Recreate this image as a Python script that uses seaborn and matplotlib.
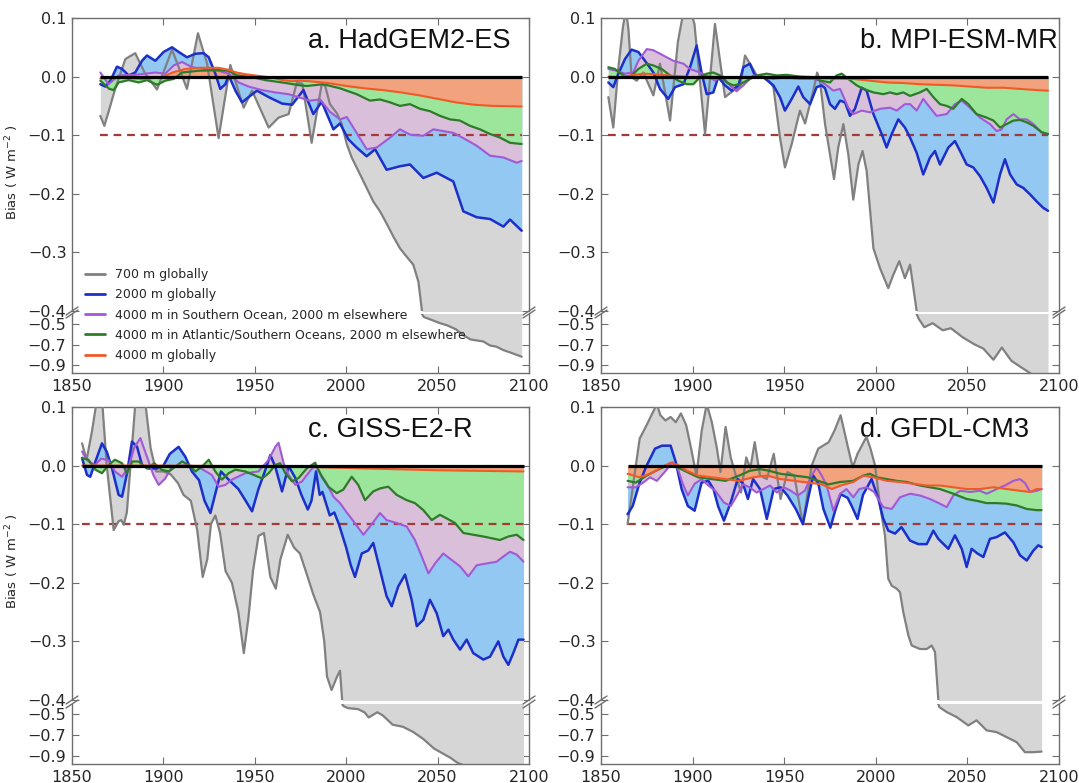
import matplotlib
matplotlib.use("Agg")
import matplotlib.pyplot as plt
import seaborn as sns
from matplotlib.lines import Line2D

# ---------------- data ----------------
LABELS = ["700 m globally", "2000 m globally",
          "4000 m in Southern Ocean, 2000 m elsewhere",
          "4000 m in Atlantic/Southern Oceans, 2000 m elsewhere",
          "4000 m globally"]
TITLES = ["a. HadGEM2-ES", "b. MPI-ESM-MR", "c. GISS-E2-R", "d. GFDL-CM3"]
SPANS = [(1865.5, 2096), (1854, 2094), (1855.5, 2097), (1864.5, 2090.5)]
THRESHOLD = -0.1

# panel a
A_GRAY_YR = [1865.5, 1867.7, 1870, 1873.7, 1879.2, 1884.6, 1890, 1896.5, 1904.7, 1912.9, 1918.9, 1923.9,
             1930.2, 1936.6, 1943.9, 1948.5, 1957.6, 1963, 1968.5, 1973, 1976, 1981.1, 1986.6, 1988.5,
             1991.1, 1995, 1997.5, 2000.3, 2003, 2007.6, 2011.2, 2014.8, 2018.5, 2022, 2025.8, 2029.4,
             2033, 2036.7, 2039.5, 2041.3, 2042.5, 2047, 2051.3, 2055, 2060, 2064.1, 2068, 2071.4, 2075,
             2078.7, 2082, 2086, 2090, 2096]
A_GRAY = [-0.067, -0.084, -0.06, -0.02, 0.030, 0.040, 0.005, -0.022, 0.046, -0.021, 0.074, 0.022,
          -0.105, 0.020, -0.053, -0.024, -0.087, -0.070, -0.064, -0.010, -0.012, -0.113, -0.013, -0.016,
          -0.047, -0.063, -0.080, -0.115, -0.138, -0.167, -0.190, -0.213, -0.230, -0.250, -0.273, -0.293,
          -0.307, -0.321, -0.350, -0.396, -0.430, -0.460, -0.490, -0.510, -0.550, -0.610, -0.650, -0.660,
          -0.670, -0.710, -0.720, -0.755, -0.780, -0.820]
A_BLUE_YR = [1865.5, 1868.2, 1871, 1874.6, 1877.4, 1881, 1884.6, 1888.3, 1891, 1895.6, 1900.1, 1904.7,
             1908.4, 1912.9, 1917.5, 1922, 1924.8, 1928.4, 1931.1, 1933.9, 1935.7, 1939.4, 1943, 1946.6,
             1951.2, 1957.6, 1964.9, 1970.4, 1976.6, 1982, 1986.6, 1993, 1996.6, 2001.2, 2005.7, 2011.2,
             2015.8, 2022.1, 2029.4, 2034.9, 2042.2, 2049.5, 2058.6, 2064.1, 2071.4, 2078.7, 2086, 2089.6, 2096]
A_BLUE = [-0.013, -0.017, -0.007, 0.017, 0.013, 0.002, 0.007, 0.027, 0.036, 0.027, 0.042, 0.050,
          0.042, 0.033, 0.039, 0.040, 0.033, 0.005, -0.021, -0.013, 0.002, -0.024, -0.044, -0.035,
          -0.024, -0.035, -0.046, -0.048, -0.023, -0.064, -0.043, -0.090, -0.080, -0.107, -0.121, -0.136,
          -0.124, -0.159, -0.153, -0.150, -0.173, -0.164, -0.179, -0.230, -0.240, -0.243, -0.256, -0.244, -0.263]
A_PURP_YR = [1865.5, 1870, 1875.5, 1884.6, 1895.6, 1901, 1905.6, 1910.2, 1915.6, 1922.9, 1930.2, 1935.7,
             1941.2, 1946.6, 1953.9, 1961.2, 1968.5, 1974.7, 1980.2, 1985.7, 1991.1, 1996.6, 2000.3, 2005.7,
             2011.2, 2016.7, 2024, 2029.4, 2034.9, 2042.2, 2047.7, 2053.1, 2058.6, 2064.1, 2071.4, 2078.7,
             2086, 2093.3, 2096]
A_PURP = [0.007, -0.013, 0.002, 0.003, 0.007, 0.005, 0.019, 0.025, 0.016, 0.013, 0.010, 0.005,
          -0.010, -0.017, -0.023, -0.027, -0.030, -0.036, -0.041, -0.039, -0.060, -0.073, -0.069, -0.096,
          -0.124, -0.121, -0.104, -0.090, -0.099, -0.101, -0.090, -0.093, -0.096, -0.105, -0.118, -0.135,
          -0.138, -0.147, -0.144]
A_GREEN_YR = [1865.5, 1870.4, 1872.8, 1875.5, 1881, 1886.5, 1891, 1896.5, 1901, 1905.6, 1910.2, 1919.3,
              1930.2, 1935.7, 1940.3, 1948.5, 1955.8, 1964.9, 1974.9, 1978.4, 1987.5, 1996.6, 2005.7, 2013,
              2018.5, 2024, 2029.4, 2034.9, 2040.4, 2045.8, 2051.3, 2056.8, 2062.2, 2067.7, 2073.2, 2078.7,
              2084.1, 2089.6, 2096]
A_GREEN = [-0.007, -0.021, -0.023, -0.010, -0.006, -0.010, -0.006, -0.014, -0.007, -0.004, 0.007, 0.010,
           0.011, 0.010, 0.002, -0.001, -0.006, -0.010, -0.015, -0.016, -0.013, -0.020, -0.030, -0.041,
           -0.039, -0.044, -0.050, -0.047, -0.055, -0.059, -0.067, -0.073, -0.075, -0.084, -0.090, -0.098,
           -0.104, -0.113, -0.115]
A_ORANGE_YR = [1865.5, 1875, 1890, 1900, 1905, 1912, 1920, 1930, 1935, 1940, 1945, 1950, 1955, 1960, 1965,
               1970, 1975, 1980, 1990, 2000, 2010, 2020, 2030, 2040, 2050, 2060, 2070, 2080, 2096]
A_ORANGE = [-0.003, -0.002, -0.004, 0.000, 0.007, 0.013, 0.015, 0.015, 0.012, 0.007, 0.004, 0.002, 0.000,
            -0.002, -0.006, -0.008, -0.007, -0.008, -0.011, -0.016, -0.020, -0.023, -0.027, -0.032, -0.038,
            -0.044, -0.048, -0.050, -0.051]

# panel b
B_GRAY_YR = [1854, 1856.7, 1859.5, 1862, 1863.6, 1865, 1866.7, 1869.5, 1873.1, 1878.6, 1882.2, 1887.7,
             1892, 1895, 1898, 1901, 1906.8, 1912.2, 1917.7, 1922.2, 1925.9, 1928.6, 1931.3, 1935, 1940.4,
             1944.1, 1947.7, 1950.4, 1954.1, 1958.6, 1961.4, 1965.9, 1968, 1969.5, 1972.3, 1977.2, 1979.5,
             1982.3, 1985, 1987.7, 1990.5, 1992.8, 1995, 1998.7, 2002.3, 2006.8, 2009.6, 2012.8, 2015.9,
             2018.7, 2021.4, 2022.3, 2023.5, 2026.5, 2031, 2036.5, 2041, 2047.5, 2054, 2058.7, 2064.2,
             2068.8, 2074, 2079, 2085, 2094]
B_GRAY = [-0.035, -0.087, 0.016, 0.085, 0.115, 0.080, -0.001, -0.007, 0.007, -0.032, 0.022, -0.075,
          0.060, 0.110, 0.120, 0.090, -0.098, 0.090, -0.035, -0.024, -0.018, 0.036, 0.022, 0.002, -0.001,
          -0.018, -0.104, -0.155, -0.115, -0.058, -0.080, -0.024, 0.007, -0.007, -0.081, -0.175, -0.121,
          -0.081, -0.133, -0.210, -0.150, -0.127, -0.161, -0.293, -0.327, -0.361, -0.338, -0.315, -0.344,
          -0.321, -0.380, -0.400, -0.450, -0.530, -0.490, -0.560, -0.540, -0.630, -0.700, -0.740, -0.850,
          -0.730, -0.860, -0.920, -0.990, -1.050]
B_BLUE_YR = [1854, 1856.7, 1859.5, 1863.1, 1866.7, 1870.4, 1874, 1878.6, 1882.2, 1886.7, 1890.4, 1895,
             1898.6, 1902.2, 1905, 1907.7, 1911.3, 1914, 1917.7, 1921.3, 1925, 1927.7, 1931.3, 1934, 1938.6,
             1944.1, 1947.7, 1950.4, 1954.1, 1957.7, 1960.4, 1964.1, 1967.7, 1970.4, 1972.3, 1975, 1977.7,
             1980.5, 1983.2, 1985.9, 1988.6, 1992.3, 1995, 1998.7, 2003.2, 2005.9, 2008.7, 2012.3, 2015.9,
             2018.7, 2022.3, 2025.9, 2029.6, 2032.3, 2035, 2039.6, 2043.2, 2046, 2049.6, 2053.2, 2056.9,
             2060.5, 2064.2, 2067.8, 2070.5, 2073.3, 2076.9, 2080.5, 2084.2, 2087.8, 2091.4, 2094]
B_BLUE = [-0.010, -0.018, 0.005, 0.030, 0.046, 0.042, 0.027, 0.007, -0.021, -0.038, -0.018, -0.013,
          0.016, 0.053, 0.005, -0.030, -0.027, -0.001, -0.015, -0.024, -0.015, 0.016, 0.022, 0.002, -0.001,
          -0.015, -0.035, -0.058, -0.038, -0.017, -0.035, -0.047, -0.018, -0.015, -0.020, -0.047, -0.055,
          -0.041, -0.044, -0.067, -0.055, -0.019, -0.024, -0.064, -0.098, -0.121, -0.098, -0.073, -0.087,
          -0.104, -0.130, -0.167, -0.138, -0.127, -0.150, -0.121, -0.110, -0.127, -0.150, -0.155, -0.170,
          -0.190, -0.215, -0.167, -0.141, -0.167, -0.184, -0.190, -0.201, -0.213, -0.224, -0.229]
B_PURP_YR = [1854, 1858.5, 1863, 1867.6, 1870.4, 1875, 1878.6, 1884, 1889.5, 1895, 1898.6, 1904, 1907.7,
             1912.2, 1915.9, 1920.4, 1924, 1927.7, 1933.1, 1938.6, 1944.1, 1951.3, 1958.6, 1965.9, 1969.5,
             1973.2, 1976.8, 1980.5, 1985, 1987.7, 1992.3, 1996.8, 2002.3, 2007.7, 2011.4, 2015.9, 2018.7,
             2022.3, 2025.9, 2029.6, 2033.2, 2038.7, 2043.2, 2046.9, 2051.4, 2056.9, 2062.3, 2066, 2068.7,
             2071.4, 2075.1, 2078.7, 2082.4, 2086, 2090.5, 2094]
B_PURP = [0.013, 0.010, 0.005, 0.007, 0.027, 0.047, 0.045, 0.036, 0.027, 0.022, 0.013, 0.007, 0.002,
          -0.007, 0.002, -0.015, -0.025, -0.015, 0.002, -0.001, -0.004, -0.001, -0.004, -0.004, -0.007,
          -0.015, -0.024, -0.021, -0.053, -0.064, -0.058, -0.061, -0.055, -0.053, -0.058, -0.047, -0.047,
          -0.058, -0.038, -0.053, -0.067, -0.064, -0.047, -0.041, -0.053, -0.070, -0.081, -0.093, -0.090,
          -0.073, -0.064, -0.073, -0.073, -0.081, -0.095, -0.098]
B_GREEN_YR = [1854, 1857.6, 1862.2, 1865.8, 1870.4, 1875, 1878.6, 1883.1, 1887.7, 1892.2, 1896.8, 1900.4,
              1904, 1907.7, 1911.3, 1915, 1918.6, 1922.2, 1925.9, 1929.5, 1935, 1940.4, 1945.9, 1951.3,
              1958.6, 1965.9, 1970, 1975, 1978.6, 1981.4, 1985, 1989.6, 1993.2, 1998.7, 2004.1, 2007.7,
              2011.4, 2015, 2018.7, 2024.1, 2027.8, 2031.4, 2035, 2038.7, 2042.3, 2046.9, 2050.5, 2055,
              2060.5, 2064.2, 2067.8, 2071.4, 2075.1, 2078.7, 2082.4, 2086, 2090.5, 2094]
B_GREEN = [0.016, 0.013, 0.002, -0.001, 0.013, 0.022, 0.019, 0.013, 0.002, -0.007, -0.013, -0.013,
           -0.001, 0.005, 0.007, 0.002, -0.010, -0.015, -0.013, -0.007, 0.002, 0.005, 0.002, 0.003,
           0.000, -0.001, -0.007, -0.010, 0.002, 0.005, -0.004, -0.015, -0.021, -0.027, -0.030, -0.027,
           -0.030, -0.027, -0.033, -0.027, -0.021, -0.035, -0.047, -0.050, -0.055, -0.038, -0.047, -0.064,
           -0.070, -0.075, -0.087, -0.081, -0.075, -0.074, -0.078, -0.084, -0.095, -0.098]
B_ORANGE_YR = [1854, 1860, 1866, 1873, 1880, 1890, 1900, 1920, 1940, 1960, 1970, 1987.7, 1996.8, 2005.9,
               2015, 2024.1, 2033.2, 2042.3, 2051.4, 2060.5, 2069.6, 2078.7, 2087.8, 2094]
B_ORANGE = [0.000, -0.001, 0.002, 0.005, 0.004, 0.001, -0.001, -0.002, -0.002, -0.003, -0.003, -0.004,
            -0.007, -0.010, -0.011, -0.013, -0.014, -0.015, -0.017, -0.019, -0.019, -0.021, -0.023, -0.024]

# panel c
C_GRAY_YR = [1855.5, 1858, 1861, 1863.5, 1866.5, 1869, 1872.8, 1875.5, 1877, 1878.3, 1880, 1882, 1884.5,
             1886, 1890, 1893, 1896, 1900, 1904, 1908, 1911, 1915, 1918.5, 1921.5, 1924, 1926, 1928.4, 1931,
             1934, 1937.5, 1941, 1944, 1946.5, 1949, 1952, 1955, 1958.5, 1961.5, 1964, 1968, 1971.5, 1974.7,
             1978.4, 1982, 1985.7, 1988, 1989.5, 1992, 1995, 1996.6, 1997.8, 1998.5, 2001, 2006.5, 2010,
             2012.3, 2017, 2020, 2025.4, 2031, 2036.6, 2042.3, 2048, 2053.5, 2057, 2061, 2070, 2097]
C_GRAY = [0.038, 0.010, 0.060, 0.110, 0.110, 0.000, -0.110, -0.095, -0.093, -0.101, -0.080, 0.000, 0.100,
          0.120, 0.110, 0.030, -0.010, -0.010, -0.015, -0.030, -0.050, -0.060, -0.110, -0.190, -0.160,
          -0.100, -0.085, -0.115, -0.180, -0.200, -0.250, -0.320, -0.260, -0.180, -0.120, -0.115, -0.190,
          -0.210, -0.160, -0.118, -0.140, -0.150, -0.185, -0.220, -0.250, -0.300, -0.360, -0.383, -0.360,
          -0.350, -0.400, -0.420, -0.440, -0.450, -0.480, -0.530, -0.480, -0.510, -0.600, -0.620, -0.670,
          -0.740, -0.830, -0.885, -0.920, -0.970, -1.030, -1.150]
C_BLUE_YR = [1855.5, 1858.2, 1860, 1862.8, 1866.4, 1869, 1871.9, 1875.5, 1877.4, 1880.1, 1882.8, 1885.6,
             1888.3, 1892, 1896.5, 1900, 1903.5, 1908.3, 1912, 1915.6, 1919.5, 1922.5, 1925.7, 1928.4,
             1931.5, 1936, 1941, 1945, 1948.5, 1952, 1955.5, 1958.5, 1961.2, 1964.9, 1968.5, 1972, 1975.5,
             1979, 1981, 1983.5, 1985.5, 1987, 1989, 1991, 1993.5, 1996, 2000, 2002.5, 2004.8, 2008.5, 2012,
             2014.8, 2018.5, 2022.1, 2024.9, 2028.5, 2032.2, 2035.8, 2038.6, 2042.2, 2045.8, 2049.5, 2053.1,
             2055.9, 2058.6, 2062.3, 2065.9, 2069.5, 2075, 2078.7, 2083.2, 2086, 2088.7, 2091.4, 2094.2, 2097]
C_BLUE = [0.013, -0.016, -0.019, 0.007, 0.038, 0.024, -0.005, -0.050, -0.053, -0.013, 0.041, 0.032,
          0.001, -0.005, -0.005, 0.000, 0.020, 0.032, 0.015, -0.010, -0.025, -0.060, -0.081, -0.048,
          -0.010, -0.025, -0.040, -0.060, -0.078, -0.040, -0.010, 0.018, -0.002, -0.044, -0.001, -0.020,
          -0.050, -0.075, -0.060, -0.010, -0.050, -0.045, -0.065, -0.085, -0.080, -0.100, -0.140, -0.170,
          -0.190, -0.150, -0.145, -0.132, -0.178, -0.223, -0.240, -0.206, -0.186, -0.229, -0.274, -0.263,
          -0.229, -0.252, -0.291, -0.280, -0.297, -0.314, -0.297, -0.320, -0.331, -0.326, -0.300, -0.326,
          -0.340, -0.320, -0.297, -0.297]
C_PURP_YR = [1855.5, 1859, 1862.5, 1866, 1870, 1873.5, 1877.4, 1881, 1884, 1887.4, 1891, 1894.5, 1897.4,
             1901, 1904.7, 1912, 1919, 1926.5, 1930.2, 1933.9, 1937.5, 1944.8, 1952, 1957.6, 1961.2, 1963,
             1965.8, 1968.5, 1972.2, 1975.8, 1979.5, 1983, 1985.7, 1989.3, 1993, 1996.6, 2000.3, 2004,
             2009.4, 2013, 2018.5, 2022.1, 2027.6, 2033.1, 2037.6, 2041.3, 2045, 2048.6, 2053.1, 2057.7,
             2062.3, 2066.8, 2071.4, 2076.8, 2082.3, 2086, 2089.6, 2093.3, 2097]
C_PURP = [0.024, 0.007, 0.001, 0.012, 0.009, -0.010, -0.019, -0.002, 0.030, 0.047, 0.015, -0.016, -0.033,
          -0.022, -0.002, 0.001, -0.002, -0.016, -0.036, -0.033, -0.024, -0.013, -0.010, 0.010, 0.032, 0.039,
          0.004, -0.016, -0.033, -0.027, -0.012, 0.001, -0.013, -0.030, -0.053, -0.064, -0.080, -0.095,
          -0.118, -0.104, -0.081, -0.093, -0.098, -0.104, -0.127, -0.155, -0.184, -0.167, -0.150, -0.161,
          -0.172, -0.189, -0.170, -0.167, -0.164, -0.155, -0.147, -0.152, -0.164]
C_GREEN_YR = [1855.5, 1859, 1862.8, 1866.4, 1870, 1873.5, 1877.4, 1880, 1883, 1886.5, 1891, 1895, 1899,
              1902.9, 1906.5, 1910.2, 1913.8, 1917.5, 1921, 1924.8, 1928.4, 1932, 1935.7, 1939.4, 1944.8,
              1949.5, 1954, 1957.6, 1961.2, 1963.9, 1966.7, 1970.4, 1974, 1978.4, 1983, 1986.6, 1990.2,
              1994.8, 1998.4, 2003, 2006.6, 2010.3, 2014.8, 2018.5, 2023, 2027.6, 2033.1, 2037.6, 2042.2,
              2046.8, 2051.3, 2054.9, 2059.5, 2064.1, 2069.5, 2075, 2079.6, 2084.1, 2088.7, 2093.3, 2097]
C_GREEN = [0.013, 0.010, -0.007, -0.013, 0.001, 0.010, 0.004, -0.013, 0.007, 0.007, -0.005, 0.004, -0.007,
           -0.010, -0.002, 0.007, 0.001, -0.010, -0.002, 0.010, -0.010, -0.024, -0.013, -0.007, -0.010,
           -0.016, -0.022, -0.013, 0.001, 0.004, -0.013, -0.027, -0.021, -0.005, 0.005, -0.019, -0.036,
           -0.047, -0.041, -0.019, -0.033, -0.059, -0.044, -0.039, -0.036, -0.050, -0.059, -0.064, -0.076,
           -0.093, -0.084, -0.090, -0.098, -0.115, -0.118, -0.121, -0.124, -0.127, -0.121, -0.118, -0.127]
C_ORANGE_YR = [1855.5, 1900, 1950, 1975, 2000, 2025, 2050, 2075, 2097]
C_ORANGE = [0.000, 0.000, -0.001, -0.002, -0.004, -0.006, -0.008, -0.009, -0.010]

# panel d
D_GRAY_YR = [1864.5, 1871.1, 1874.9, 1880.5, 1882.4, 1885.2, 1888, 1890.8, 1893.6, 1896.5, 1899.2, 1902.1,
             1905, 1907.7, 1910.5, 1913.3, 1915.2, 1918, 1920.8, 1923.6, 1926.4, 1929.3, 1931.5, 1933.9,
             1936.8, 1940.5, 1944.3, 1948, 1951.8, 1955.5, 1960.2, 1965, 1968.6, 1974.3, 1977.5, 1980.8,
             1984.6, 1987.4, 1990, 1994.9, 1997, 1999.6, 2002.3, 2005, 2006.8, 2008.7, 2011.4, 2013.2, 2015,
             2017.8, 2019.6, 2024.1, 2027.8, 2030.5, 2032.3, 2034.1, 2034.7, 2038.7, 2044.1, 2050.5, 2055,
             2060.5, 2066, 2071.4, 2076.9, 2081.4, 2086, 2090.5]
D_GRAY = [-0.100, 0.046, 0.069, 0.105, 0.086, 0.077, 0.083, 0.074, 0.089, 0.069, 0.029, -0.017,
          0.060, 0.105, 0.074, 0.029, -0.011, 0.066, 0.014, -0.017, -0.046, 0.014, -0.005, 0.040,
          -0.017, -0.023, 0.020, -0.057, -0.011, -0.017, -0.100, 0.000, 0.029, 0.040, 0.060, 0.086,
          0.034, -0.003, 0.020, 0.049, 0.030, 0.000, -0.068, -0.119, -0.193, -0.205, -0.210, -0.216, -0.250,
          -0.290, -0.307, -0.313, -0.313, -0.307, -0.318, -0.398, -0.430, -0.478, -0.526, -0.607, -0.558,
          -0.655, -0.672, -0.720, -0.769, -0.866, -0.866, -0.860]
D_BLUE_YR = [1864.5, 1867.3, 1871.1, 1874.9, 1879.5, 1883.3, 1888, 1890.8, 1894, 1897.4, 1901.1, 1904.9,
             1908.6, 1911.4, 1914, 1917.1, 1920.8, 1924.6, 1927.4, 1930.2, 1933, 1936.8, 1940.5, 1944.3,
             1948, 1951.8, 1956.5, 1960.2, 1963, 1965.8, 1968.6, 1971.4, 1975.2, 1978, 1980.8, 1984.6, 1987,
             1990, 1993, 1997.7, 2001.4, 2004, 2006.8, 2010.5, 2014, 2018.7, 2023.2, 2027.8, 2031.4, 2034.1,
             2039.6, 2043.2, 2046.9, 2049.6, 2052.3, 2055.5, 2058.7, 2062.3, 2066, 2070.5, 2075.1, 2078.7,
             2082.4, 2086, 2088.7, 2090.5]
D_BLUE = [-0.083, -0.069, -0.029, 0.000, 0.029, 0.034, 0.034, 0.006, -0.040, -0.069, -0.077, -0.029,
          -0.026, -0.040, -0.070, -0.094, -0.063, -0.023, -0.030, -0.057, -0.023, -0.040, -0.091, -0.040,
          -0.037, -0.051, -0.075, -0.100, -0.057, -0.017, -0.030, -0.074, -0.106, -0.075, -0.049, -0.055,
          -0.070, -0.091, -0.050, -0.023, -0.057, -0.090, -0.111, -0.116, -0.105, -0.128, -0.134, -0.134,
          -0.111, -0.125, -0.142, -0.119, -0.142, -0.173, -0.142, -0.150, -0.156, -0.125, -0.122, -0.114,
          -0.131, -0.153, -0.162, -0.145, -0.136, -0.139]
D_PURP_YR = [1864.5, 1869, 1873, 1876.7, 1880.5, 1885, 1889, 1892, 1894.5, 1897.4, 1901.1, 1904.9, 1908.6,
             1912.4, 1917.1, 1920.8, 1924.6, 1927.4, 1931.1, 1934.9, 1938.6, 1942.3, 1946, 1949.8, 1953.6,
             1957.4, 1961.2, 1965, 1967.7, 1970.5, 1973.2, 1976.8, 1980.5, 1984, 1987.7, 1991, 1995, 1999,
             2004.1, 2008.7, 2013.2, 2018.7, 2024.1, 2029.6, 2035, 2038.7, 2042.3, 2046, 2051.4, 2056.9,
             2060.5, 2066, 2070.5, 2075.1, 2078.7, 2081.5, 2084.2, 2087.8, 2090.5]
D_PURP = [-0.037, -0.037, -0.029, -0.020, -0.026, -0.010, 0.006, -0.006, -0.030, -0.051, -0.031, -0.023,
          -0.034, -0.043, -0.063, -0.069, -0.049, -0.032, -0.037, -0.046, -0.040, -0.034, -0.046, -0.037,
          -0.043, -0.051, -0.043, -0.017, -0.003, -0.017, -0.034, -0.077, -0.048, -0.040, -0.054, -0.040,
          -0.037, -0.045, -0.071, -0.074, -0.054, -0.048, -0.051, -0.057, -0.065, -0.071, -0.051, -0.043,
          -0.045, -0.043, -0.048, -0.040, -0.034, -0.026, -0.023, -0.030, -0.045, -0.043, -0.040]
D_GREEN_YR = [1864.5, 1869, 1874.9, 1880.5, 1886, 1891.7, 1897, 1903, 1910.5, 1918, 1925.5, 1931.1,
              1936.8, 1942, 1948, 1955.5, 1963, 1968.6, 1974.3, 1980.5, 1987.7, 1993.2, 1996.8, 2000.5,
              2005.9, 2011.4, 2016.9, 2024.1, 2029.6, 2035, 2042.3, 2049.6, 2055, 2060.5, 2066, 2071.4,
              2076.9, 2082.4, 2087.8, 2090.5]
D_GREEN = [-0.026, -0.029, -0.017, -0.008, 0.000, -0.003, -0.011, -0.020, -0.023, -0.026, -0.017, -0.009,
           -0.006, -0.009, -0.014, -0.017, -0.020, -0.026, -0.032, -0.028, -0.026, -0.017, -0.014, -0.020,
           -0.023, -0.026, -0.028, -0.034, -0.037, -0.040, -0.048, -0.057, -0.060, -0.064, -0.064, -0.065,
           -0.068, -0.074, -0.076, -0.076]
D_ORANGE_YR = [1864.5, 1871, 1877, 1883, 1888, 1892, 1897, 1903, 1910.5, 1918, 1925.5, 1933, 1940.5, 1948,
               1955.5, 1963, 1970.5, 1976, 1980.8, 1987.7, 1993.2, 1998.6, 2005.9, 2013.2, 2020.5, 2027.8,
               2035, 2042.3, 2049.6, 2056.9, 2064.2, 2071.4, 2078.7, 2084.2, 2087.8, 2090.5]
D_ORANGE = [-0.014, -0.020, -0.014, -0.003, 0.005, 0.001, -0.009, -0.017, -0.020, -0.023, -0.026, -0.020,
            -0.017, -0.023, -0.026, -0.029, -0.032, -0.040, -0.034, -0.028, -0.017, -0.020, -0.026, -0.028,
            -0.031, -0.034, -0.034, -0.037, -0.040, -0.040, -0.037, -0.040, -0.043, -0.045, -0.040, -0.040]

PANELS = [
    [(A_GRAY_YR, A_GRAY), (A_BLUE_YR, A_BLUE), (A_PURP_YR, A_PURP), (A_GREEN_YR, A_GREEN), (A_ORANGE_YR, A_ORANGE)],
    [(B_GRAY_YR, B_GRAY), (B_BLUE_YR, B_BLUE), (B_PURP_YR, B_PURP), (B_GREEN_YR, B_GREEN), (B_ORANGE_YR, B_ORANGE)],
    [(C_GRAY_YR, C_GRAY), (C_BLUE_YR, C_BLUE), (C_PURP_YR, C_PURP), (C_GREEN_YR, C_GREEN), (C_ORANGE_YR, C_ORANGE)],
    [(D_GRAY_YR, D_GRAY), (D_BLUE_YR, D_BLUE), (D_PURP_YR, D_PURP), (D_GREEN_YR, D_GREEN), (D_ORANGE_YR, D_ORANGE)],
]

# ---------------- style ----------------
LINE_COLORS = ["#808080", "#1c2fc9", "#a05ad6", "#2f7a2a", "#f05a28"]
FILL_COLORS = ["#d6d6d6", "#92c8f2", "#d9bfd9", "#9be69b", "#f2a27c"]
LINE_WIDTHS = [1.6, 1.8, 1.5, 1.6, 1.5]
SPINE = "#6e6e6e"

sns.set_style("ticks")
plt.rcParams["font.family"] = ["DejaVu Sans"]
plt.rcParams["axes.unicode_minus"] = True

W, H = 1079, 783
fig = plt.figure(figsize=(W / 100, H / 100), dpi=100)


def add_ax(left, top, right, bottom):
    return fig.add_axes([left / W, 1 - bottom / H, (right - left) / W, (bottom - top) / H])


def style_pair(ax_t, ax_b):
    for ax in (ax_t, ax_b):
        ax.set_xlim(1850, 2100)
        for s in ax.spines.values():
            s.set_color(SPINE)
            s.set_linewidth(1.0)
        ax.tick_params(direction="in", length=5, width=0.8, color=SPINE, labelsize=11.5,
                       labelcolor="#262626", right=True, left=True, pad=4)
        ax.set_xlabel("")
        ax.set_ylabel("")
    ax_t.spines["bottom"].set_visible(False)
    ax_b.spines["top"].set_visible(False)
    ax_t.set_ylim(-0.4, 0.1)
    ax_t.set_yticks([0.1, 0.0, -0.1, -0.2, -0.3, -0.4])
    ax_t.set_xticks(range(1850, 2101, 50))
    ax_t.tick_params(axis="x", top=True, bottom=False, labelbottom=False)
    ax_b.set_ylim(-0.98, -0.4)
    ax_b.set_yticks([-0.5, -0.7, -0.9])
    ax_b.set_xticks(range(1850, 2101, 50))
    ax_b.tick_params(axis="x", top=False, bottom=True)


def break_marks(left, right, y_top, y_bot):
    for x in (left, right):
        for y in (y_top, y_bot):
            fig.add_artist(Line2D([(x - 6) / W, (x + 6) / W], [1 - (y + 4) / H, 1 - (y - 4) / H],
                                  color=SPINE, lw=1.0))


LAYOUT = [  # left, right, top, mid, lower_top, bottom (pixels)
    (72, 529, 18, 311, 314, 373),
    (601, 1059, 18, 311, 314, 373),
    (72, 529, 407, 700, 704, 764),
    (601, 1059, 407, 700, 704, 764),
]
TITLE_X = [0.516, 0.565, 0.516, 0.565]

for k, (series, (l, r, t, m, lt, b)) in enumerate(zip(PANELS, LAYOUT)):
    ax_t = add_ax(l, t, r, m)
    ax_b = add_ax(l, lt, r, b)
    start, end = SPANS[k]
    for ax in (ax_t, ax_b):
        for i, (yr, vals) in enumerate(series):
            ax.fill_between(yr, 0, vals, color=FILL_COLORS[i], lw=0, zorder=1 + i)
        ax.hlines(THRESHOLD, start, end, colors="#a33a3a", lw=1.6, linestyles=(0, (3.5, 2.6)), zorder=7)
        for i, (yr, vals) in enumerate(series):
            sns.lineplot(x=yr, y=vals, ax=ax, color=LINE_COLORS[i], lw=LINE_WIDTHS[i],
                         estimator=None, sort=False, zorder=8 + i)
        ax.hlines(0, start, end, colors="black", lw=2.3, zorder=14)
    style_pair(ax_t, ax_b)
    break_marks(l, r, m, lt)
    ax_t.text(TITLE_X[k], 1 - 30 / (m - t), TITLES[k], transform=ax_t.transAxes, ha="left",
              va="baseline", fontsize=19.5, color="#111111", family=["Liberation Sans", "DejaVu Sans"])
    if k in (0, 2):
        fig.text(12 / W, 1 - (t + 154) / H, "Bias ( W m$^{-2}$ )", rotation=90, ha="center",
                 va="center", fontsize=9.5, color="#262626")

handles = [Line2D([0], [0], color=c, lw=2) for c in LINE_COLORS]
fig.legend(handles, LABELS, loc="upper left", bbox_to_anchor=(85 / W, 1 - 268 / H), frameon=False,
           fontsize=9, labelspacing=0.58, handlelength=1.6, handletextpad=0.8, borderpad=0,
           borderaxespad=0, labelcolor="#262626")

fig.savefig("out.png", dpi=100)
